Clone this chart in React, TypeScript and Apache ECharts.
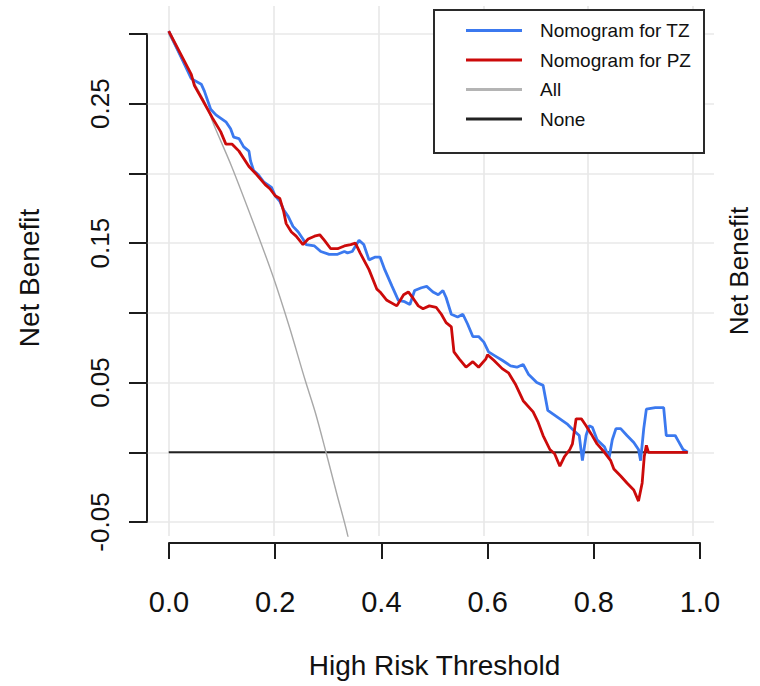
import React, { useEffect, useRef } from "react";
import * as echarts from "echarts";

// ---- data ----
const xTicks = [0, 0.2, 0.4, 0.6, 0.8, 1.0];
const yTicks = [-0.05, 0, 0.05, 0.1, 0.15, 0.2, 0.25, 0.3];
const yTickLabels = ["0.25", "0.15", "0.05", "-0.05"];

const seriesNames = ["Nomogram for TZ", "Nomogram for PZ", "All", "None"];

const tzCurve = [
  [0, 0.302], [0.043, 0.268], [0.062, 0.264], [0.068, 0.259], [0.08, 0.246], [0.09, 0.242],
  [0.109, 0.237], [0.118, 0.232], [0.124, 0.226], [0.134, 0.225], [0.143, 0.219], [0.153, 0.216],
  [0.156, 0.209], [0.162, 0.202], [0.171, 0.199], [0.181, 0.194], [0.196, 0.19], [0.203, 0.184],
  [0.212, 0.18], [0.219, 0.174], [0.228, 0.169], [0.237, 0.162], [0.247, 0.158], [0.256, 0.153],
  [0.262, 0.149], [0.278, 0.148], [0.29, 0.144], [0.306, 0.142], [0.322, 0.142], [0.335, 0.144],
  [0.341, 0.143], [0.35, 0.144], [0.363, 0.152], [0.372, 0.149], [0.382, 0.138], [0.394, 0.14],
  [0.403, 0.14], [0.412, 0.131], [0.426, 0.119], [0.438, 0.109], [0.45, 0.108], [0.46, 0.106],
  [0.469, 0.116], [0.482, 0.118], [0.492, 0.119], [0.504, 0.115], [0.514, 0.113], [0.523, 0.116],
  [0.529, 0.111], [0.539, 0.099], [0.551, 0.097], [0.561, 0.099], [0.57, 0.092], [0.58, 0.083],
  [0.591, 0.083], [0.601, 0.079], [0.61, 0.072], [0.623, 0.069], [0.636, 0.066], [0.652, 0.062],
  [0.664, 0.061], [0.676, 0.063], [0.686, 0.056], [0.702, 0.05], [0.714, 0.048], [0.718, 0.04],
  [0.723, 0.03], [0.742, 0.025], [0.761, 0.02], [0.774, 0.015], [0.783, 0.012], [0.789, -0.006],
  [0.796, 0.012], [0.802, 0.019], [0.808, 0.018], [0.817, 0.009], [0.831, 0.004], [0.84, -0.004],
  [0.846, 0.009], [0.853, 0.017], [0.862, 0.017], [0.874, 0.012], [0.887, 0.007], [0.896, 0.002],
  [0.9, -0.006], [0.906, 0.017], [0.911, 0.031], [0.928, 0.032], [0.944, 0.032], [0.949, 0.012],
  [0.966, 0.012], [0.972, 0.008], [0.981, 0.002], [0.99, 0.0],
];

const pzCurve = [
  [0, 0.302], [0.043, 0.271], [0.049, 0.263], [0.064, 0.253], [0.083, 0.24], [0.099, 0.23],
  [0.109, 0.221], [0.121, 0.221], [0.134, 0.216], [0.153, 0.205], [0.168, 0.199], [0.184, 0.192],
  [0.193, 0.189], [0.203, 0.184], [0.212, 0.182], [0.219, 0.173], [0.224, 0.164], [0.234, 0.158],
  [0.243, 0.155], [0.256, 0.149], [0.266, 0.153], [0.278, 0.155], [0.288, 0.156], [0.297, 0.152],
  [0.309, 0.146], [0.322, 0.146], [0.335, 0.148], [0.347, 0.149], [0.356, 0.15], [0.365, 0.143],
  [0.382, 0.131], [0.397, 0.117], [0.403, 0.115], [0.416, 0.109], [0.435, 0.105], [0.448, 0.113],
  [0.457, 0.115], [0.467, 0.11], [0.476, 0.105], [0.485, 0.103], [0.497, 0.105], [0.51, 0.104],
  [0.52, 0.099], [0.529, 0.093], [0.539, 0.09], [0.544, 0.072], [0.554, 0.067], [0.567, 0.061],
  [0.58, 0.065], [0.591, 0.061], [0.605, 0.067], [0.608, 0.07], [0.62, 0.066], [0.636, 0.06],
  [0.648, 0.057], [0.661, 0.049], [0.676, 0.037], [0.695, 0.029], [0.704, 0.022], [0.714, 0.012],
  [0.727, 0.002], [0.736, -0.001], [0.746, -0.01], [0.755, -0.003], [0.765, 0.002], [0.77, 0.006],
  [0.777, 0.024], [0.787, 0.024], [0.796, 0.019], [0.806, 0.013], [0.817, 0.006], [0.831, 0.0],
  [0.843, -0.006], [0.849, -0.012], [0.862, -0.017], [0.874, -0.022], [0.887, -0.027], [0.896, -0.035],
  [0.903, -0.022], [0.907, -0.003], [0.911, 0.005], [0.915, 0.0], [0.99, 0.0],
];

const allCurve = [
  [0, 0.3], [0.04, 0.271], [0.07, 0.25], [0.087, 0.234], [0.12, 0.205], [0.166, 0.16], [0.2, 0.125],
  [0.23, 0.09], [0.26, 0.052], [0.28, 0.028], [0.3, 0.0], [0.32, -0.029], [0.341, -0.059], [0.36, -0.094],
];

const noneCurve = [
  [0, 0], [0.99, 0],
];

// ---- layout ----
const FONT = '"Liberation Sans", Arial, Helvetica, sans-serif';
const AX_LEFT = 169;
const AX_TOP = 34;
const AX_W = 531;
const AX_H = 488;
const X_MIN = 0, X_MAX = 1;
const Y_MIN = -0.05, Y_MAX = 0.3;
const PX_X = AX_W / (X_MAX - X_MIN);
const PX_Y = AX_H / (Y_MAX - Y_MIN);
const P_XMIN = -0.04, P_XMAX = 1.04, P_YMIN = -0.06, P_YMAX = 0.32;

const TEXT = "#111111";
const AXIS = "#1c1c1c";

function buildOption() {
  const panelLeft = AX_LEFT + (P_XMIN - X_MIN) * PX_X;
  const panelW = (P_XMAX - P_XMIN) * PX_X;
  const panelTop = AX_TOP - (P_YMAX - Y_MAX) * PX_Y;
  const panelH = (P_YMAX - P_YMIN) * PX_Y;

  return {
    animation: false,
    backgroundColor: "#ffffff",
    textStyle: { fontFamily: FONT },
    grid: [
      { left: panelLeft, top: panelTop, width: panelW, height: panelH },
      { left: AX_LEFT, top: AX_TOP, width: AX_W, height: AX_H },
    ],
    xAxis: [
      { gridIndex: 0, type: "value", min: P_XMIN, max: P_XMAX, show: false },
      {
        gridIndex: 1,
        type: "value",
        min: X_MIN,
        max: X_MAX,
        interval: 0.2,
        position: "bottom",
        offset: 21,
        axisLine: { show: true, onZero: false, lineStyle: { color: AXIS, width: 2 } },
        axisTick: { show: true, length: 16, lineStyle: { color: AXIS, width: 2 } },
        splitLine: { show: false },
        axisLabel: {
          fontSize: 29,
          margin: 44,
          color: TEXT,
          fontFamily: FONT,
          formatter: (v: number) => v.toFixed(1),
        },
        name: "High Risk Threshold",
        nameLocation: "middle",
        nameGap: 108,
        nameTextStyle: { fontSize: 28, color: TEXT, fontFamily: FONT },
      },
    ],
    yAxis: [
      { gridIndex: 0, type: "value", min: P_YMIN, max: P_YMAX, show: false },
      {
        gridIndex: 1,
        type: "value",
        min: Y_MIN,
        max: Y_MAX,
        interval: 0.05,
        position: "left",
        offset: 22,
        axisLine: { show: true, onZero: false, lineStyle: { color: AXIS, width: 2 } },
        axisTick: { show: true, length: 18, lineStyle: { color: AXIS, width: 2 } },
        splitLine: { show: false },
        axisLabel: {
          rotate: 90,
          fontSize: 26,
          margin: 34,
          color: TEXT,
          fontFamily: FONT,
          formatter: (v: number) => {
            const s = v.toFixed(2);
            return yTickLabels.includes(s) ? s : "";
          },
        },
        name: "Net Benefit",
        nameLocation: "middle",
        nameGap: 104,
        nameTextStyle: { fontSize: 28, color: TEXT, fontFamily: FONT },
      },
      {
        gridIndex: 0,
        type: "value",
        min: P_YMIN,
        max: P_YMAX,
        position: "right",
        axisLine: { show: false, onZero: false },
        axisTick: { show: false },
        axisLabel: { show: false },
        splitLine: { show: false },
        name: "Net Benefit",
        nameLocation: "middle",
        nameGap: 12,
        nameTextStyle: { fontSize: 26, color: TEXT, fontFamily: FONT },
      },
    ],
    legend: {
      data: seriesNames,
      orient: "vertical",
      left: 461,
      top: 16,
      icon: "rect",
      itemWidth: 56,
      itemHeight: 3,
      itemGap: 10.5,
      z: 100,
      textStyle: { fontSize: 19, color: TEXT, fontFamily: FONT, padding: [0, 0, 0, 13], lineHeight: 19 },
      selectedMode: false,
    },
    graphic: [
      {
        type: "rect",
        left: 433,
        top: 9,
        z: 50,
        shape: { width: 270, height: 143 },
        style: { fill: "#ffffff", stroke: "#2a2a2a", lineWidth: 2 },
      },
    ],
    series: [
      {
        type: "line",
        name: "__grid",
        xAxisIndex: 0,
        yAxisIndex: 0,
        data: [[0, 0]],
        symbol: "none",
        silent: true,
        z: 1,
        lineStyle: { opacity: 0 },
        markLine: {
          silent: true,
          symbol: ["none", "none"],
          label: { show: false },
          z: 1,
          lineStyle: { color: "#e8e8e8", width: 1.6, type: "solid" },
          data: [
            ...xTicks.map((v) => ({ xAxis: v })),
            ...yTicks.map((v) => ({ yAxis: v })),
          ],
        },
      },
      {
        type: "line",
        name: "None",
        xAxisIndex: 0,
        yAxisIndex: 0,
        data: noneCurve,
        symbol: "none",
        z: 10,
        color: "#222222",
        lineStyle: { color: "#222222", width: 2 },
      },
      {
        type: "line",
        name: "All",
        xAxisIndex: 0,
        yAxisIndex: 0,
        data: allCurve,
        symbol: "none",
        smooth: 0.3,
        z: 11,
        color: "#b4b4b4",
        lineStyle: { color: "#a8a8a8", width: 1.4 },
      },
      {
        type: "line",
        name: "Nomogram for TZ",
        xAxisIndex: 0,
        yAxisIndex: 0,
        data: tzCurve,
        symbol: "none",
        z: 12,
        color: "#3b79ef",
        lineStyle: { color: "#3b79ef", width: 2.8 },
      },
      {
        type: "line",
        name: "Nomogram for PZ",
        xAxisIndex: 0,
        yAxisIndex: 0,
        data: pzCurve,
        symbol: "none",
        z: 13,
        color: "#cc0a0a",
        lineStyle: { color: "#cc0a0a", width: 2.8 },
      },
    ],
  };
}

export default function App() {
  const ref = useRef<HTMLDivElement>(null);
  useEffect(() => {
    if (!ref.current) return;
    const chart = echarts.init(ref.current, null, { renderer: "svg" });
    chart.setOption(buildOption() as any);
    return () => chart.dispose();
  }, []);
  return (
    <div
      ref={ref}
      style={{ position: "fixed", left: 0, top: 0, width: 760, height: 686, background: "#fff" }}
    />
  );
}
